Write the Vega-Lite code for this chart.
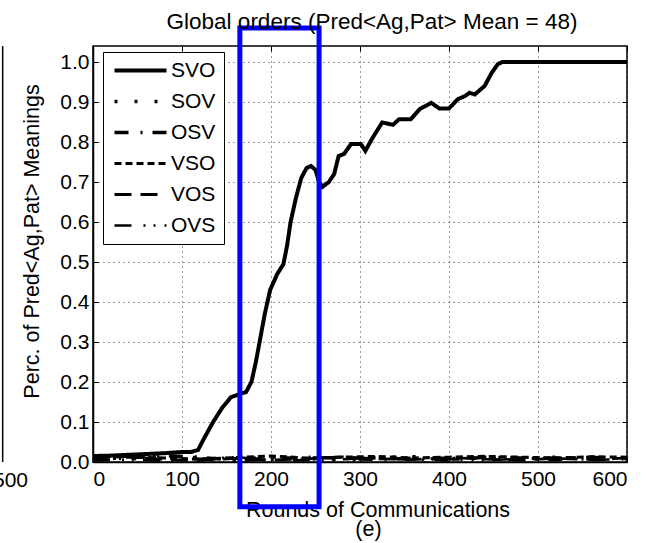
{
  "$schema": "https://vega.github.io/schema/vega-lite/v6.json",
  "width": 534,
  "height": 416,
  "autosize": {"type": "none"},
  "padding": {"left": 93, "top": 46, "right": 25, "bottom": 81},
  "background": "white",
  "title": {"text": "Global orders (Pred<Ag,Pat> Mean = 48)", "fontSize": 22.5, "fontWeight": "normal", "font": "Liberation Sans", "color": "black", "offset": 0, "dx": 12, "dy": 8},
  "config": {
    "font": "Liberation Sans",
    "view": {"stroke": "black", "strokeWidth": 1.5},
    "axis": {"labelFontSize": 21, "labelColor": "black", "titleFontSize": 21.5, "titleFontWeight": "normal", "titleColor": "black", "domainColor": "black", "domainWidth": 1.5, "tickColor": "black", "tickWidth": 1, "gridColor": "black", "gridDash": [1, 4], "gridOpacity": 0.8, "labelFont": "Liberation Sans", "titleFont": "Liberation Sans"}
  },
  "resolve": {"axis": {"x": "independent", "y": "independent"}},
  "datasets": {
    "series": [
      {"order": "SVO", "round": 0, "value": 0.015},
      {"order": "SVO", "round": 20, "value": 0.016},
      {"order": "SVO", "round": 40, "value": 0.018},
      {"order": "SVO", "round": 60, "value": 0.02},
      {"order": "SVO", "round": 80, "value": 0.022},
      {"order": "SVO", "round": 100, "value": 0.025},
      {"order": "SVO", "round": 110, "value": 0.025},
      {"order": "SVO", "round": 118, "value": 0.03},
      {"order": "SVO", "round": 125, "value": 0.06},
      {"order": "SVO", "round": 135, "value": 0.1},
      {"order": "SVO", "round": 145, "value": 0.135},
      {"order": "SVO", "round": 155, "value": 0.162},
      {"order": "SVO", "round": 165, "value": 0.17},
      {"order": "SVO", "round": 172, "value": 0.175},
      {"order": "SVO", "round": 178, "value": 0.2},
      {"order": "SVO", "round": 183, "value": 0.25},
      {"order": "SVO", "round": 188, "value": 0.31},
      {"order": "SVO", "round": 193, "value": 0.37},
      {"order": "SVO", "round": 199, "value": 0.43},
      {"order": "SVO", "round": 207, "value": 0.47},
      {"order": "SVO", "round": 214, "value": 0.495},
      {"order": "SVO", "round": 218, "value": 0.54},
      {"order": "SVO", "round": 222, "value": 0.6},
      {"order": "SVO", "round": 228, "value": 0.66},
      {"order": "SVO", "round": 234, "value": 0.71},
      {"order": "SVO", "round": 240, "value": 0.735},
      {"order": "SVO", "round": 245, "value": 0.74},
      {"order": "SVO", "round": 250, "value": 0.73},
      {"order": "SVO", "round": 254, "value": 0.7},
      {"order": "SVO", "round": 258, "value": 0.688},
      {"order": "SVO", "round": 265, "value": 0.7},
      {"order": "SVO", "round": 271, "value": 0.72},
      {"order": "SVO", "round": 276, "value": 0.765},
      {"order": "SVO", "round": 282, "value": 0.77},
      {"order": "SVO", "round": 290, "value": 0.795},
      {"order": "SVO", "round": 301, "value": 0.795},
      {"order": "SVO", "round": 306, "value": 0.778},
      {"order": "SVO", "round": 314, "value": 0.81},
      {"order": "SVO", "round": 325, "value": 0.849},
      {"order": "SVO", "round": 337, "value": 0.843},
      {"order": "SVO", "round": 344, "value": 0.857},
      {"order": "SVO", "round": 357, "value": 0.857},
      {"order": "SVO", "round": 367, "value": 0.882},
      {"order": "SVO", "round": 380, "value": 0.898},
      {"order": "SVO", "round": 389, "value": 0.884},
      {"order": "SVO", "round": 400, "value": 0.884},
      {"order": "SVO", "round": 410, "value": 0.907},
      {"order": "SVO", "round": 418, "value": 0.915},
      {"order": "SVO", "round": 423, "value": 0.923},
      {"order": "SVO", "round": 429, "value": 0.919},
      {"order": "SVO", "round": 440, "value": 0.94},
      {"order": "SVO", "round": 448, "value": 0.973},
      {"order": "SVO", "round": 455, "value": 0.995},
      {"order": "SVO", "round": 460, "value": 1.0},
      {"order": "SVO", "round": 600, "value": 1.0},

      {"order": "SOV", "round": 0, "value": 0.012},
      {"order": "SOV", "round": 40, "value": 0.008},
      {"order": "SOV", "round": 80, "value": 0.014},
      {"order": "SOV", "round": 120, "value": 0.01},
      {"order": "SOV", "round": 160, "value": 0.006},
      {"order": "SOV", "round": 200, "value": 0.013},
      {"order": "SOV", "round": 240, "value": 0.009},
      {"order": "SOV", "round": 280, "value": 0.005},
      {"order": "SOV", "round": 320, "value": 0.011},
      {"order": "SOV", "round": 360, "value": 0.013},
      {"order": "SOV", "round": 400, "value": 0.008},
      {"order": "SOV", "round": 440, "value": 0.01},
      {"order": "SOV", "round": 480, "value": 0.007},
      {"order": "SOV", "round": 520, "value": 0.012},
      {"order": "SOV", "round": 560, "value": 0.009},
      {"order": "SOV", "round": 600, "value": 0.011},

      {"order": "OSV", "round": 0, "value": 0.006},
      {"order": "OSV", "round": 40, "value": 0.01},
      {"order": "OSV", "round": 80, "value": 0.016},
      {"order": "OSV", "round": 120, "value": 0.012},
      {"order": "OSV", "round": 160, "value": 0.004},
      {"order": "OSV", "round": 200, "value": 0.008},
      {"order": "OSV", "round": 240, "value": 0.012},
      {"order": "OSV", "round": 280, "value": 0.009},
      {"order": "OSV", "round": 320, "value": 0.006},
      {"order": "OSV", "round": 360, "value": 0.01},
      {"order": "OSV", "round": 400, "value": 0.004},
      {"order": "OSV", "round": 440, "value": 0.012},
      {"order": "OSV", "round": 480, "value": 0.01},
      {"order": "OSV", "round": 520, "value": 0.006},
      {"order": "OSV", "round": 560, "value": 0.012},
      {"order": "OSV", "round": 600, "value": 0.008},

      {"order": "VSO", "round": 0, "value": 0.016},
      {"order": "VSO", "round": 40, "value": 0.012},
      {"order": "VSO", "round": 80, "value": 0.01},
      {"order": "VSO", "round": 120, "value": 0.007},
      {"order": "VSO", "round": 160, "value": 0.011},
      {"order": "VSO", "round": 200, "value": 0.015},
      {"order": "VSO", "round": 240, "value": 0.01},
      {"order": "VSO", "round": 280, "value": 0.012},
      {"order": "VSO", "round": 320, "value": 0.014},
      {"order": "VSO", "round": 360, "value": 0.01},
      {"order": "VSO", "round": 400, "value": 0.012},
      {"order": "VSO", "round": 440, "value": 0.014},
      {"order": "VSO", "round": 480, "value": 0.012},
      {"order": "VSO", "round": 520, "value": 0.01},
      {"order": "VSO", "round": 560, "value": 0.013},
      {"order": "VSO", "round": 600, "value": 0.012},

      {"order": "VOS", "round": 0, "value": 0.01},
      {"order": "VOS", "round": 40, "value": 0.014},
      {"order": "VOS", "round": 80, "value": 0.006},
      {"order": "VOS", "round": 120, "value": 0.004},
      {"order": "VOS", "round": 160, "value": 0.009},
      {"order": "VOS", "round": 200, "value": 0.005},
      {"order": "VOS", "round": 240, "value": 0.008},
      {"order": "VOS", "round": 280, "value": 0.013},
      {"order": "VOS", "round": 320, "value": 0.008},
      {"order": "VOS", "round": 360, "value": 0.006},
      {"order": "VOS", "round": 400, "value": 0.011},
      {"order": "VOS", "round": 440, "value": 0.007},
      {"order": "VOS", "round": 480, "value": 0.005},
      {"order": "VOS", "round": 520, "value": 0.009},
      {"order": "VOS", "round": 560, "value": 0.006},
      {"order": "VOS", "round": 600, "value": 0.01},

      {"order": "OVS", "round": 0, "value": 0.004},
      {"order": "OVS", "round": 40, "value": 0.006},
      {"order": "OVS", "round": 80, "value": 0.003},
      {"order": "OVS", "round": 120, "value": 0.008},
      {"order": "OVS", "round": 160, "value": 0.012},
      {"order": "OVS", "round": 200, "value": 0.006},
      {"order": "OVS", "round": 240, "value": 0.004},
      {"order": "OVS", "round": 280, "value": 0.007},
      {"order": "OVS", "round": 320, "value": 0.01},
      {"order": "OVS", "round": 360, "value": 0.005},
      {"order": "OVS", "round": 400, "value": 0.007},
      {"order": "OVS", "round": 440, "value": 0.004},
      {"order": "OVS", "round": 480, "value": 0.008},
      {"order": "OVS", "round": 520, "value": 0.011},
      {"order": "OVS", "round": 560, "value": 0.005},
      {"order": "OVS", "round": 600, "value": 0.007}
    ],
    "box": [{"x1": 165, "x2": 254, "y1": -0.112, "y2": 1.085}],
    "fragment": [{"fx": -101.5, "fy1": 0, "fy2": 1.04, "label": "500", "tx": -73, "ty": -0.062}],
    "caption": [{"cx": 309.5, "cy": -0.1858, "label": "(e)"}]
  },
  "layer": [
    {
      "data": {"name": "series"},
      "mark": {"type": "line", "color": "black", "strokeCap": "butt"},
      "encoding": {
        "x": {"field": "round", "type": "quantitative", "scale": {"domain": [0, 600], "nice": false, "zero": false},
              "axis": {"orient": "bottom", "values": [0, 100, 200, 300, 400, 500, 600], "title": "Rounds of Communications", "titleFontSize": 21.5, "titleX": 284.5, "titleY": 54, "titleBaseline": "alphabetic", "titleAlign": "center", "labelPadding": 11, "labelDx": 7, "tickSize": -5, "grid": true}},
        "y": {"field": "value", "type": "quantitative", "scale": {"domain": [0, 1.04], "nice": false, "zero": false},
              "axis": {"orient": "left", "values": [0, 0.1, 0.2, 0.3, 0.4, 0.5, 0.6, 0.7, 0.8, 0.9, 1.0], "format": ".1f", "title": "Perc. of Pred<Ag,Pat> Meanings", "titleX": -61, "titleY": 195, "titleAngle": -90, "titleAlign": "center", "titleBaseline": "middle", "labelPadding": 9, "tickSize": -5, "grid": true}},
        "strokeDash": {"field": "order", "type": "nominal",
          "scale": {"domain": ["SVO", "SOV", "OSV", "VSO", "VOS", "OVS"], "range": [[1, 0], [3, 17], [14, 12, 2, 10], [7, 4], [17, 9], [17, 12, 2, 8, 2, 9]]},
          "legend": {"title": null, "orient": "none", "legendX": 10, "legendY": 6, "strokeColor": "black", "fillColor": "white", "padding": 8,
                     "symbolType": "M-1.4,0H9", "symbolSize": 100, "symbolStrokeColor": "black",
                     "labelFontSize": 21, "labelColor": "black", "labelFont": "Liberation Sans", "labelOffset": 39, "rowPadding": 9}},
        "strokeWidth": {"field": "order", "type": "nominal",
          "scale": {"domain": ["SVO", "SOV", "OSV", "VSO", "VOS", "OVS"], "range": [4, 2.5, 2.5, 3.5, 2.5, 2.5]}}
      }
    },
    {
      "data": {"name": "box"},
      "mark": {"type": "point", "opacity": 0},
      "encoding": {
        "x": {"field": "x1", "type": "quantitative", "axis": {"orient": "top", "values": [0, 100, 200, 300, 400, 500, 600], "labels": false, "title": null, "domain": false, "grid": false, "tickSize": -5}},
        "y": {"field": "y2", "type": "quantitative", "axis": {"orient": "right", "values": [0, 0.1, 0.2, 0.3, 0.4, 0.5, 0.6, 0.7, 0.8, 0.9, 1.0], "labels": false, "title": null, "domain": false, "grid": false, "tickSize": -5}}
      }
    },
    {
      "data": {"name": "box"},
      "mark": {"type": "rect", "fill": null, "filled": false, "stroke": "#0000ff", "strokeWidth": 5, "clip": false},
      "encoding": {
        "x": {"field": "x1", "type": "quantitative", "axis": null},
        "x2": {"field": "x2"},
        "y": {"field": "y1", "type": "quantitative", "axis": null},
        "y2": {"field": "y2"}
      }
    },
    {
      "data": {"name": "fragment"},
      "mark": {"type": "rule", "color": "black", "strokeWidth": 1.5, "clip": false},
      "encoding": {
        "x": {"field": "fx", "type": "quantitative", "axis": null},
        "y": {"field": "fy1", "type": "quantitative", "axis": null},
        "y2": {"field": "fy2"}
      }
    },
    {
      "data": {"name": "fragment"},
      "mark": {"type": "text", "fontSize": 21, "align": "right", "baseline": "alphabetic", "color": "black", "clip": false},
      "encoding": {
        "x": {"field": "tx", "type": "quantitative", "axis": null},
        "y": {"field": "ty", "type": "quantitative", "axis": null},
        "text": {"field": "label"}
      }
    },
    {
      "data": {"name": "caption"},
      "mark": {"type": "text", "fontSize": 21.5, "align": "center", "baseline": "alphabetic", "color": "black", "clip": false},
      "encoding": {
        "x": {"field": "cx", "type": "quantitative", "axis": null},
        "y": {"field": "cy", "type": "quantitative", "axis": null},
        "text": {"field": "label"}
      }
    }
  ]
}
